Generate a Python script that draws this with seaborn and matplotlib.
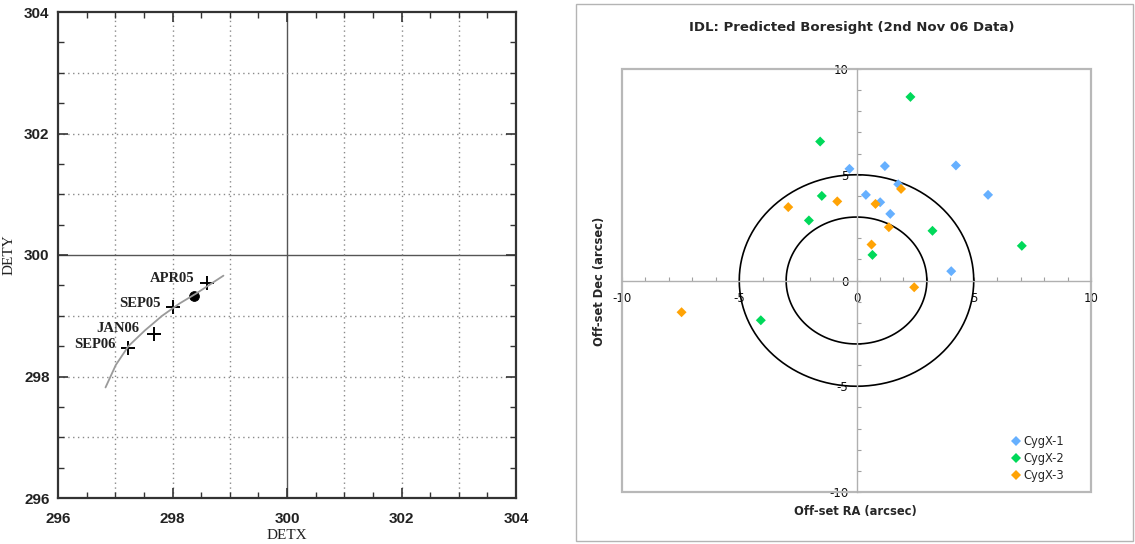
import numpy as np
import pandas as pd
import matplotlib
matplotlib.use('Agg')
import matplotlib.pyplot as plt
from matplotlib.patches import Rectangle
from matplotlib.ticker import MultipleLocator
import seaborn as sns

# --- left panel: DETX / DETY boresight drift ---
curve_x = [296.83, 297.01, 297.23, 297.52, 297.82, 298.12, 298.42, 298.89]
curve_y = [297.82, 298.19, 298.50, 298.76, 299.00, 299.20, 299.37, 299.66]
epochs = ['APR05', 'SEP05', 'JAN06', 'SEP06']
epoch_x = [298.60, 298.00, 297.67, 297.23]
epoch_y = [299.54, 299.14, 298.70, 298.47]
current_x = [298.37]
current_y = [299.32]

# --- right panel: predicted boresight offsets (arcsec) ---
cyg1_x = [-0.30, 1.21, 4.24, 1.78, 0.40, 1.01, 5.61, 1.44, 4.04]
cyg1_y = [5.28, 5.41, 5.44, 4.55, 4.05, 3.70, 4.05, 3.15, 0.44]
cyg2_x = [2.30, -1.55, -1.48, -2.03, 3.24, 7.05, 0.68, -4.08]
cyg2_y = [8.68, 6.57, 4.00, 2.84, 2.35, 1.64, 1.21, -1.88]
cyg3_x = [1.90, -0.82, -2.91, 0.81, 1.38, 0.64, 2.46, -7.46]
cyg3_y = [4.33, 3.74, 3.47, 3.62, 2.52, 1.70, -0.32, -1.50]
ring_radii = [3, 5]

sns.set_style('white')
plt.rcParams['font.family'] = ['DejaVu Sans']

fig = plt.figure(figsize=(11.35, 5.44), dpi=100)

# ================= left =================
ax1 = fig.add_axes([58 / 1135, 1 - 498 / 544, 458 / 1135, 486 / 544])
for v in range(297, 304):
    ls = '-' if v == 300 else (0, (1, 2.5))
    col = '#555555' if v == 300 else '#8a8a8a'
    ax1.axvline(v, color=col, lw=1.0, ls=ls, zorder=0)
    ax1.axhline(v, color=col, lw=1.0, ls=ls, zorder=0)

sns.lineplot(x=curve_x, y=curve_y, ax=ax1, color='#9a9a9a', lw=1.3, sort=False)
sns.scatterplot(x=epoch_x, y=epoch_y, ax=ax1, marker='+', s=110, color='black',
                linewidth=1.4)
sns.scatterplot(x=current_x, y=current_y, ax=ax1, marker='o', s=50, color='black',
                edgecolor='black')
label_offsets = [(-9, 3.2), (-8.6, 2.5), (-10.5, 4.3), (-9.1, 2.7)]
for name, x, y, off in zip(epochs, epoch_x, epoch_y, label_offsets):
    ax1.annotate(name, (x, y), xytext=off, textcoords='offset points',
                 ha='right', va='center', fontsize=10.5, fontweight='bold',
                 family='Liberation Serif', color='#222222')

ax1.set_xlim(296, 304)
ax1.set_ylim(296, 304)
ax1.xaxis.set_major_locator(MultipleLocator(2))
ax1.yaxis.set_major_locator(MultipleLocator(2))
ax1.xaxis.set_minor_locator(MultipleLocator(0.5))
ax1.yaxis.set_minor_locator(MultipleLocator(0.5))
ax1.tick_params(which='both', direction='in', top=True, right=True, bottom=True,
                left=True, color='#333333')
ax1.tick_params(which='major', length=7, width=1.2)
ax1.tick_params(which='minor', length=4, width=1.0)
ax1.tick_params(axis='x', pad=10)
ax1.tick_params(axis='y', pad=6)
for lab in ax1.get_xticklabels() + ax1.get_yticklabels():
    lab.set_fontsize(11)
    lab.set_fontweight('bold')
    lab.set_family('Liberation Sans')
    lab.set_color('#222222')
for sp in ax1.spines.values():
    sp.set_color('#333333')
    sp.set_linewidth(1.6)
ax1.set_xlabel('DETX', family='Liberation Serif', fontsize=11, color='#222222', labelpad=2)
ax1.set_ylabel('DETY', family='Liberation Serif', fontsize=11, color='#222222', labelpad=6)

# ================= right =================
fig.patches.append(Rectangle((576 / 1135, 3 / 544), 557 / 1135, 537 / 544,
                             transform=fig.transFigure, fill=False,
                             edgecolor='#b4b4b4', lw=1.0))

ax2 = fig.add_axes([622 / 1135, 1 - 492 / 544, 469 / 1135, 423 / 544])
df = pd.concat([
    pd.DataFrame({'x': cyg1_x, 'y': cyg1_y, 'src': 'CygX-1'}),
    pd.DataFrame({'x': cyg2_x, 'y': cyg2_y, 'src': 'CygX-2'}),
    pd.DataFrame({'x': cyg3_x, 'y': cyg3_y, 'src': 'CygX-3'}),
])
palette = {'CygX-1': '#66b0ff', 'CygX-2': '#00d95a', 'CygX-3': '#ffa305'}

theta = np.linspace(0, 2 * np.pi, 361)
for r in ring_radii:
    ax2.plot(r * np.cos(theta), r * np.sin(theta), color='black', lw=1.2, zorder=2)

sns.scatterplot(data=df, x='x', y='y', hue='src', palette=palette, marker='D',
                s=26, linewidth=0, ax=ax2, zorder=3)

ax2.set_xlim(-10, 10)
ax2.set_ylim(-10, 10)
ax2.spines['left'].set_position(('data', 0))
ax2.spines['bottom'].set_position(('data', 0))
ax2.spines['top'].set_visible(False)
ax2.spines['right'].set_visible(False)
for k in ['left', 'bottom']:
    ax2.spines[k].set_color('#b0b0b0')
    ax2.spines[k].set_linewidth(1.0)
ax2.add_patch(Rectangle((0, 0), 1, 1, transform=ax2.transAxes, fill=False,
                        edgecolor='#b8b8b8', lw=1.6, clip_on=False, zorder=1))
ax2.xaxis.set_major_locator(MultipleLocator(5))
ax2.yaxis.set_major_locator(MultipleLocator(5))
ax2.xaxis.set_minor_locator(MultipleLocator(1))
ax2.yaxis.set_minor_locator(MultipleLocator(1))
ax2.tick_params(which='both', direction='in', color='#a0a0a0', length=3, width=0.8,
                labelsize=8.5, labelcolor='#111111', bottom=True, left=True)
ax2.tick_params(axis='x', pad=8)
ax2.tick_params(axis='y', pad=6)
ax2.set_xticks([-10, -5, 0, 5, 10])
ax2.set_xticklabels(['-10', '-5', '0', '5', '10'])
ax2.set_yticks([-10, -5, 0, 5, 10])
ax2.set_yticklabels(['-10', '-5', '0', '5', '10'])
ax2.set_xlabel('')
ax2.set_ylabel('')

fig.text(855 / 1135, 1 - 512 / 544, 'Off-set RA (arcsec)', ha='center', va='center',
         fontsize=8.3, fontweight='bold')
fig.text(600 / 1135, 1 - 281 / 544, 'Off-set Dec (arcsec)', ha='center', va='center',
         rotation=90, fontsize=8.3, fontweight='bold')
fig.text(852 / 1135, 1 - 27 / 544, 'IDL: Predicted Boresight (2nd Nov 06 Data)',
         ha='center', va='center', fontsize=9.5, fontweight='bold')

leg = ax2.legend(loc='lower left', bbox_to_anchor=(0.81, 0.0), frameon=False,
                 fontsize=8.3, handlelength=0.6, handletextpad=0.35,
                 labelspacing=0.35, markerscale=0.9)

fig.savefig('out.png', dpi=100)
